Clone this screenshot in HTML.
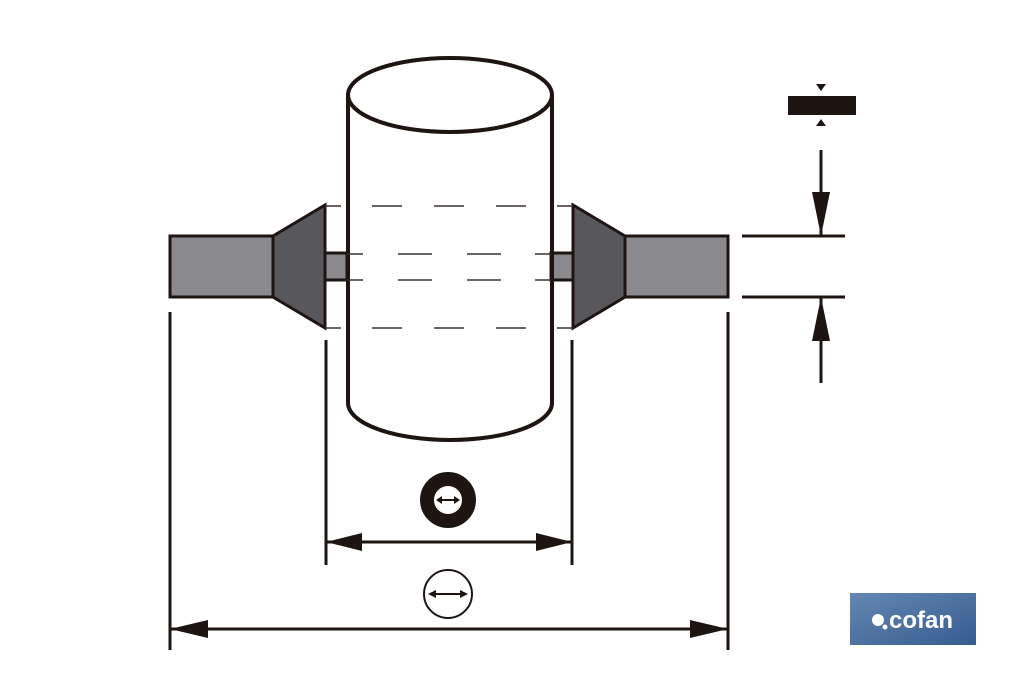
<!DOCTYPE html>
<html><head><meta charset="utf-8"><style>html,body{margin:0;padding:0;background:#fff}svg{display:block}</style></head>
<body>
<svg width="1024" height="682" viewBox="0 0 1024 682" xmlns="http://www.w3.org/2000/svg">
<defs>
<linearGradient id="g" x1="0" y1="0" x2="1" y2="1"><stop offset="0" stop-color="#6487b2"/><stop offset="1" stop-color="#385c90"/></linearGradient>
</defs>
<g stroke="#1e1412" stroke-width="3" fill="none">
<!-- shafts -->
<rect x="170" y="236" width="103" height="61" fill="#8a898e"/>
<polygon points="273,236 325,205 325,328 273,297" fill="#58575c"/>
<rect x="325" y="253" width="22" height="27" fill="#8a898e"/>
<rect x="625" y="236" width="103" height="61" fill="#8a898e"/>
<polygon points="625,236 573,205 573,328 625,297" fill="#58575c"/>
<rect x="551" y="253" width="22" height="27" fill="#8a898e"/>
<!-- cylinder -->
<path d="M348,95 V403 A102,37 0 0 0 552,403 V95" stroke-width="4"/>
<ellipse cx="450" cy="95" rx="102" ry="37" stroke-width="4"/>
</g>
<!-- dashes -->
<g stroke="#3a302e" stroke-width="1.6">
<path d="M325,206h16M372,206h30M434,206h30M496,206h30M557,206h16"/>
<path d="M325,328h16M372,328h30M434,328h30M496,328h30M557,328h16"/>
<path d="M347,254h16M398,254h34M467,254h34M535,254h16"/>
<path d="M347,280h16M398,280h34M467,280h34M535,280h16"/>
</g>
<!-- dimension lines -->
<g stroke="#1e1412" stroke-width="3" fill="none">
<path d="M170,312V650M728,312V650M326,340V565M572,340V565"/>
<path d="M326,542H572M170,629H728"/>
<path d="M742,236H845M742,297H845M821,150V236M821,297V383"/>
<rect x="788" y="96" width="68" height="19" fill="#1e1412" stroke="none"/>
</g>
<g fill="#1e1412">
<polygon points="326,542 362,533 362,551"/>
<polygon points="572,542 536,533 536,551"/>
<polygon points="170,629 208,620 208,638"/>
<polygon points="728,629 690,620 690,638"/>
<polygon points="821,236 812,192 830,192"/>
<polygon points="821,297 812,341 830,341"/>
<polygon points="816,84 826,84 821,91"/>
<polygon points="816,126 826,126 821,119"/>
</g>
<!-- symbols -->
<circle cx="448" cy="500" r="21" fill="none" stroke="#1e1412" stroke-width="14"/>
<g stroke="#1e1412" stroke-width="2"><path d="M439,500H457"/><path d="M433,594H463"/></g>
<polygon points="436,500 442,496 442,504" fill="#1e1412"/>
<polygon points="460,500 454,496 454,504" fill="#1e1412"/>
<circle cx="448" cy="594" r="24" fill="none" stroke="#1e1412" stroke-width="2"/>
<polygon points="428,594 436,590 436,598" fill="#1e1412"/>
<polygon points="468,594 460,590 460,598" fill="#1e1412"/>
<!-- logo -->
<rect x="850" y="593" width="126" height="52" fill="url(#g)"/>
<circle cx="878" cy="620" r="6" fill="#fff"/>
<circle cx="885" cy="627" r="2.5" fill="#fff"/>
<text x="889" y="628" font-family="Liberation Sans, sans-serif" font-weight="bold" font-size="24" fill="#fff">cofan</text>
</svg>
</body></html>
